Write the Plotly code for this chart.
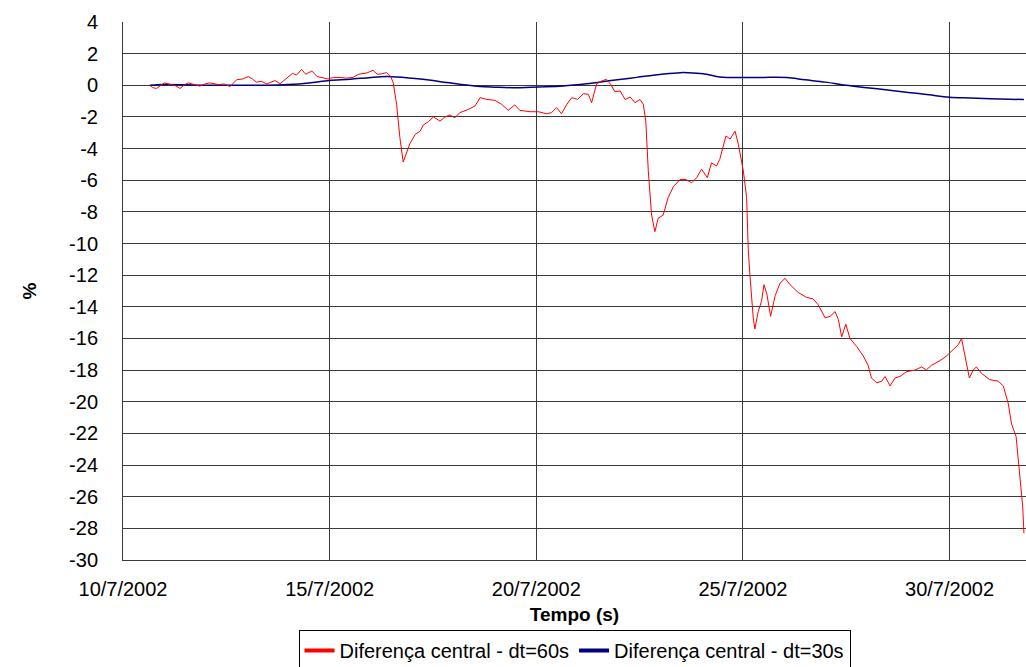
import pandas as pd
import plotly.graph_objects as go

start = pd.Timestamp("2002-07-10")

# Red series: day offset from 10/7/2002 and value (%)
red_days = [0.65, 0.72, 0.81, 0.9, 1.0, 1.15, 1.25, 1.38, 1.5, 1.58, 1.7, 1.86, 2.0, 2.1, 2.3, 2.45, 2.59, 2.75,
            2.9, 3.03, 3.13, 3.23, 3.35, 3.48, 3.58, 3.68, 3.8, 3.9, 4.0, 4.1, 4.2, 4.32, 4.42, 4.57, 4.7, 4.8,
            4.96, 5.1, 5.25, 5.4, 5.57, 5.7, 5.9, 6.05, 6.15, 6.25, 6.38, 6.48, 6.54, 6.62, 6.70, 6.78, 6.86,
            6.94, 7.07, 7.19, 7.27, 7.39, 7.51, 7.67, 7.79, 7.91, 8.03, 8.15, 8.36, 8.52, 8.64, 8.80, 9.0, 9.16,
            9.32, 9.48, 9.6, 9.85, 10.05, 10.25, 10.37, 10.49, 10.61, 10.74, 10.86, 11.0, 11.14, 11.26, 11.34,
            11.46, 11.58, 11.70, 11.80, 11.9, 12.03, 12.15, 12.27, 12.39, 12.51, 12.59, 12.65, 12.71, 12.79,
            12.87, 12.95, 13.07, 13.19, 13.32, 13.48, 13.62, 13.76, 13.88, 14.0, 14.14, 14.24, 14.36, 14.44,
            14.59, 14.69, 14.81, 14.89, 15.01, 15.09, 15.13, 15.17, 15.25, 15.29, 15.37, 15.45, 15.51, 15.58,
            15.67, 15.78, 15.90, 16.02, 16.14, 16.34, 16.54, 16.70, 16.82, 16.99, 17.11, 17.23, 17.31, 17.39,
            17.49, 17.59, 17.75, 17.91, 18.03, 18.11, 18.24, 18.36, 18.44, 18.56, 18.68, 18.80, 18.96, 19.16,
            19.32, 19.44, 19.56, 19.77, 19.93, 20.09, 20.21, 20.29, 20.37, 20.48, 20.57, 20.65, 20.77, 20.97,
            21.18, 21.30, 21.42, 21.50, 21.61, 21.66, 21.72, 21.77, 21.80]
red_vals = [0.0, -0.15, -0.2, -0.05, 0.15, 0.05, 0.0, -0.2, 0.05, 0.15, 0.05, -0.05, 0.1, 0.15, 0.05, 0.08, -0.08, 0.35,
            0.4, 0.55, 0.4, 0.2, 0.25, 0.08, 0.2, 0.3, 0.1, 0.3, 0.55, 0.75, 0.65, 1.0, 0.7, 0.9, 0.55, 0.5,
            0.4, 0.5, 0.5, 0.45, 0.5, 0.7, 0.78, 0.95, 0.7, 0.72, 0.8, 0.55, 0.15, -1.2, -3.3, -4.85, -4.2,
            -3.7, -3.1, -2.9, -2.5, -2.3, -2.0, -2.26, -2.0, -1.88, -2.05, -1.73, -1.52, -1.3, -0.78, -0.89, -0.95, -1.2,
            -1.58, -1.24, -1.58, -1.67, -1.67, -1.8, -1.73, -1.41, -1.8, -1.2, -0.78, -0.89, -0.53, -0.57, -1.1,
            0.1, 0.27, 0.38, 0.06, -0.4, -0.36, -0.9, -0.74, -1.1, -0.89, -1.2, -2.26, -5.4, -8.2,
            -9.25, -8.4, -8.2, -7.1, -6.4, -5.95, -5.95, -6.16, -5.84, -5.3, -5.84, -4.9, -5.1, -4.68,
            -3.2, -3.4, -2.9, -3.73, -5.4, -7.1, -10.4, -12.0, -14.7, -15.4, -14.3, -13.65, -12.6, -13.2,
            -14.6, -13.3, -12.5, -12.2, -12.6, -13.1, -13.4, -13.5, -13.86, -14.7, -14.6, -14.3, -14.8, -15.9,
            -15.1, -16.0, -16.5, -17.1, -17.7, -18.5, -18.8, -18.7, -18.4, -19.0, -18.5, -18.4, -18.1, -18.0,
            -17.8, -17.98, -17.7, -17.4, -17.1, -16.7, -16.4, -16.0, -17.1, -18.5, -18.0, -17.8, -18.2, -18.6,
            -18.7, -19.0, -20.1, -21.4, -22.2, -23.7, -25.4, -26.6, -28.3]

# Blue series
blue_days = [0.65, 1.0, 2.0, 3.0, 3.5, 4.0, 4.5, 5.0, 5.5, 6.0, 6.4, 7.0, 7.5, 7.83, 8.2, 8.64, 9.0, 9.44, 10.05,
             10.65, 11.22, 11.86, 12.43, 12.99, 13.48, 13.8, 14.12, 14.44, 15.01, 15.5, 16.06, 16.5, 17.0, 17.5,
             18.0, 18.5, 19.0, 19.5, 20.0, 20.5, 21.0, 21.8]
blue_vals = [0.0, 0.05, 0.0, 0.0, 0.0, 0.05, 0.15, 0.3, 0.38, 0.5, 0.55, 0.44, 0.3, 0.17, 0.05, -0.08, -0.12, -0.15, -0.1,
             -0.04, 0.1, 0.32, 0.5, 0.68, 0.8, 0.78, 0.7, 0.53, 0.49, 0.5, 0.49, 0.35, 0.2, 0.0,
             -0.15, -0.3, -0.45, -0.6, -0.75, -0.8, -0.85, -0.9]

x_tick_dates = ["2002-07-10", "2002-07-15", "2002-07-20", "2002-07-25", "2002-07-30"]
x_tick_text = ["10/7/2002", "15/7/2002", "20/7/2002", "25/7/2002", "30/7/2002"]
y_tick_vals = [4, 2, 0, -2, -4, -6, -8, -10, -12, -14, -16, -18, -20, -22, -24, -26, -28, -30]
y_tick_text = ["4", "2", "0", "-2", "-4", "-6", "-8", "-10", "-12", "-14", "-16", "-18", "-20", "-22",
               "-24", "-26", "-28", "-30"]

name_red = "Diferença central - dt=60s"
name_blue = "Diferença central - dt=30s"

red_x = [start + pd.Timedelta(days=d) for d in red_days]
blue_x = [start + pd.Timedelta(days=d) for d in blue_days]

RED = "#ff0000"
BLUE = "#000080"
FONT = "Liberation Sans, Arial, sans-serif"

fig = go.Figure()
fig.add_trace(go.Scatter(x=blue_x, y=blue_vals, mode="lines", line=dict(color=BLUE, width=1.5, shape="spline"),
                         showlegend=False))
fig.add_trace(go.Scatter(x=red_x, y=red_vals, mode="lines", line=dict(color=RED, width=1), showlegend=False))
# legend entries with thick swatches
fig.add_trace(go.Scatter(x=[None], y=[None], mode="lines", line=dict(color=RED, width=4), name=name_red))
fig.add_trace(go.Scatter(x=[None], y=[None], mode="lines", line=dict(color=BLUE, width=4), name=name_blue))

GRID = "#3a3a3a"
fig.update_layout(
    width=1026, height=667,
    margin=dict(l=123, r=0, t=22, b=107),
    paper_bgcolor="white", plot_bgcolor="white",
    font=dict(family=FONT, size=19, color="black"),
    showlegend=True,
    legend=dict(orientation="h", x=0.5, xanchor="center", xref="paper",
                y=37 / 667, yanchor="top", yref="container",
                bordercolor="black", borderwidth=1, font=dict(size=20),
                itemwidth=30, tracegroupgap=0),
    xaxis=dict(
        range=[start, start + pd.Timedelta(days=21.85)],
        tickvals=x_tick_dates, ticktext=x_tick_text,
        showgrid=True, gridcolor=GRID, gridwidth=1,
        showline=True, linecolor=GRID, linewidth=1,
        ticks="", ticklabelstandoff=11,
        tickfont=dict(size=20),
        title=dict(text="<b>Tempo (s)</b>", font=dict(size=19), standoff=8),
        zeroline=False, automargin=False,
    ),
    yaxis=dict(
        range=[-30, 4], tickvals=y_tick_vals, ticktext=y_tick_text,
        showgrid=True, gridcolor=GRID, gridwidth=1,
        showline=True, linecolor=GRID, linewidth=1,
        ticks="outside", ticklen=20, tickcolor="rgba(0,0,0,0)",
        tickfont=dict(size=20),
        title=dict(text="<b>%</b>", font=dict(size=19), standoff=27),
        zeroline=False, automargin=False,
    ),
)

fig.write_html(
    "out.html",
    config={"displayModeBar": False},
    post_script="document.body.style.margin='0';document.body.style.overflow='hidden';",
)
